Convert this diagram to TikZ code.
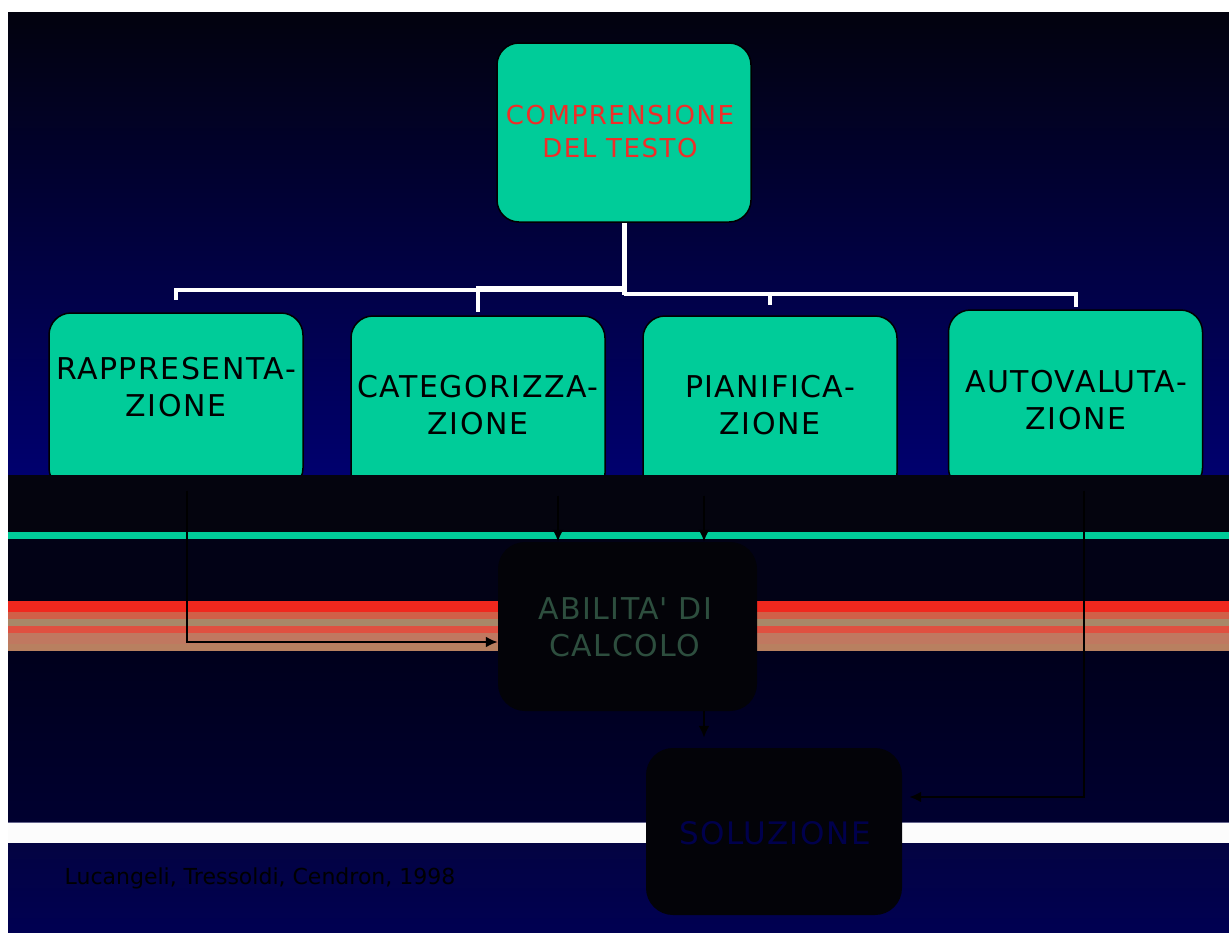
\documentclass[tikz,border=0pt]{standalone}
\usepackage{fontspec}
\setmainfont{DejaVu Sans}
\newfontfamily\widesans[LetterSpace=5]{DejaVu Sans}
\newfontfamily\widertitle[LetterSpace=6]{DejaVu Sans}
\usetikzlibrary{arrows.meta}

\definecolor{boxteal}{RGB}{0,204,153}
\definecolor{skytop}{RGB}{2,2,14}
\definecolor{skybot}{RGB}{0,0,110}
\definecolor{bandblack}{RGB}{4,4,14}
\definecolor{deepnavy}{RGB}{2,2,22}
\definecolor{stripeA}{RGB}{240,40,30}
\definecolor{stripeB}{RGB}{208,96,72}
\definecolor{stripeC}{RGB}{168,136,104}
\definecolor{stripeD}{RGB}{224,80,64}
\definecolor{stripeE}{RGB}{192,120,96}
\definecolor{stripeF}{RGB}{184,128,96}
\definecolor{lowtop}{RGB}{0,0,28}
\definecolor{lowbot}{RGB}{0,0,48}
\definecolor{foottop}{RGB}{3,3,66}
\definecolor{footbot}{RGB}{0,0,82}
\definecolor{titlered}{RGB}{240,45,40}
\definecolor{abiltext}{RGB}{45,78,62}
\definecolor{soltext}{RGB}{0,0,76}
\definecolor{panelblack}{RGB}{3,3,8}

\begin{document}
\begin{tikzpicture}[x=1pt,y=-1pt,
  box/.style={draw=black, line width=1.5pt, fill=boxteal, rounded corners=22pt,
              minimum width=254pt, inner sep=0pt},
  darkbox/.style={fill=panelblack, rounded corners=27pt, inner sep=0pt},
  wire/.style={draw=white, line width=4pt},
  trunk/.style={draw=white, line width=5pt},
  arr/.style={draw=black, line width=2.6pt, -{Latex[length=12pt,width=11pt]}},
  lbl/.style={font=\widesans\fontsize{30}{37}\selectfont, align=center, text=black, inner sep=0pt},
  toplbl/.style={font=\widertitle\fontsize{26}{33}\selectfont, align=center, text=titlered, inner sep=0pt},
]
\useasboundingbox (0,0) rectangle (1229,932);

% slide background
\fill[white] (0,0) rectangle (1229,932);
\shade[top color=skytop, bottom color=skybot] (8,12) rectangle (1229,475);

% top of the map: the text-comprehension box and its four branches
\node[box, minimum height=179pt] (top) at (624,132.5) {};
\node[box, minimum height=177pt] (rap) at (176,401.5) {};
\node[box, minimum height=179pt] (cat) at (478,405.5) {};
\node[box, minimum height=179pt] (pia) at (770,405.5) {};
\node[box, minimum height=180pt] (aut) at (1075.5,400) {};

\coordinate (hub) at (624,290);
\draw[trunk] (top.south) -- ([yshift=-5pt]hub);
\draw[wire, shorten >=12pt] (hub) -| (rap.north);
\draw[wire, shorten >=3pt] ([yshift=2pt]hub) -| (cat.north);
\draw[wire, shorten >=10pt] ([yshift=-4pt]hub) -| (pia.north);
\draw[wire, shorten >=2pt] ([yshift=-4pt]hub) -| (aut.north);

% horizontal bands across the slide
\fill[bandblack] (8,475) rectangle (1229,532);
\fill[boxteal] (8,532) rectangle (1229,539);
\fill[deepnavy] (8,539) rectangle (1229,601);
\fill[stripeA] (8,601) rectangle (1229,612);
\fill[stripeB] (8,612) rectangle (1229,619);
\fill[stripeC] (8,619) rectangle (1229,626);
\fill[stripeD] (8,626) rectangle (1229,633);
\fill[stripeE] (8,633) rectangle (1229,644);
\fill[stripeF] (8,644) rectangle (1229,651);
\shade[top color=lowtop, bottom color=lowbot] (8,651) rectangle (1229,822);
\fill[white!99!black] (8,822) rectangle (1229,843);
\draw[line width=0.8pt, draw={rgb,255:red,100;green,100;blue,140}] (8,822) -- (1229,822) (8,843) -- (1229,843);
\shade[top color=foottop, bottom color=footbot] (8,843.4) rectangle (1229,932);

% lower boxes
\node[darkbox, minimum width=259pt, minimum height=169pt] (abil) at (627.5,626.5) {};
\node[darkbox, minimum width=256pt, minimum height=167pt] (sol) at (774,831.5) {};

% box labels
\node[toplbl] (topT) at (620,132) {COMPRENSIONE\\DEL TESTO};
\node[lbl] (rapT) at (176,387) {RAPPRESENTA-\\ZIONE};
\node[lbl] (catT) at (478,405) {CATEGORIZZA-\\ZIONE};
\node[lbl] (piaT) at (770,405) {PIANIFICA-\\ZIONE};
\node[lbl] (autT) at (1076,400) {AUTOVALUTA-\\ZIONE};
\node[lbl, text=abiltext] (abilT) at (625,627) {ABILITA\textquotesingle{} DI\\CALCOLO};
\node[lbl, font=\widesans\fontsize{31}{38}\selectfont, text=soltext] (solT) at (775,833) {SOLUZIONE};
\node[inner sep=0pt, font=\fontsize{22}{26}\selectfont, text=black] (cite) at (260,878)
  {Lucangeli, Tressoldi, Cendron, 1998};

% flow arrows
\draw[arr] ([xshift=11pt]rap.south) |- ([yshift=-15.5pt]abil.west);
\draw[arr] ([xshift=80pt]cat.south) -- ([xshift=80pt]cat.south |- abil.north);
\draw[arr] ([xshift=-66pt]pia.south) -- ([xshift=-66pt]pia.south |- abil.north);
\draw[arr, shorten >=10pt] ([xshift=76.5pt]abil.south) -- ([xshift=76.5pt]abil.south |- sol.north);
\draw[arr, shorten >=7pt] ([xshift=8.5pt]aut.south) |- ([yshift=34.5pt]sol.east);
\end{tikzpicture}
\end{document}
